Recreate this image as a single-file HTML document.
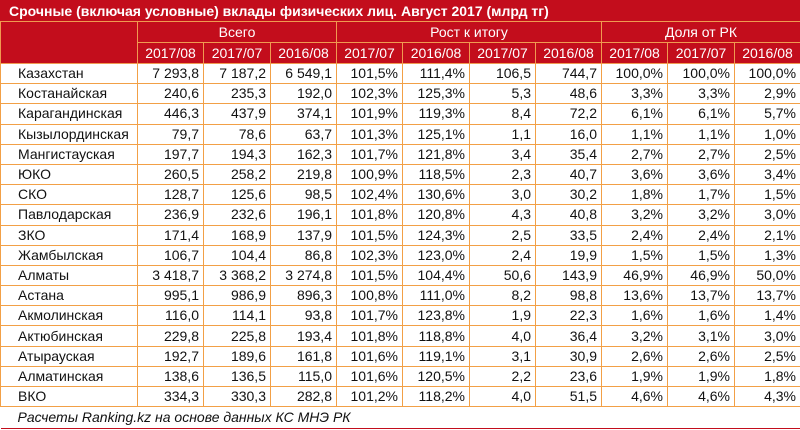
<!DOCTYPE html>
<html><head><meta charset="utf-8"><style>
body{margin:0;width:800px;height:430px;background:#fff;overflow:hidden;font-family:"Liberation Sans","DejaVu Sans",sans-serif;}
table{border-collapse:collapse;table-layout:fixed;width:800px;position:absolute;left:0;top:0;}
td{border:1px solid #f2a046;padding:0 4px;height:19.2px;font-size:14px;color:#111;text-align:right;white-space:nowrap;overflow:hidden;line-height:19px;}
td.l{text-align:left;padding-left:17px;}
tr.h td{background:#c30d1c;color:#fff;text-align:center;height:20px;border-color:#f09a50;}
tr.t td{background:#c30d1c;color:#fff;font-weight:bold;text-align:left;font-size:14px;height:20px;padding-left:8px;border-color:#c30d1c;border-bottom-color:#f09a50;}
tr.f td{text-align:left;font-style:italic;padding-left:17px;border-left:none;border-right:none;border-top:1px solid #c30d1c;border-bottom:1px solid #c30d1c;height:21px;}
</style></head><body>
<table>
<colgroup><col style="width:137px"><col style="width:66px"><col style="width:67px"><col style="width:66px"><col style="width:66px"><col style="width:67px"><col style="width:66px"><col style="width:66px"><col style="width:66px"><col style="width:67px"><col style="width:66px"></colgroup>
<tr class="t"><td colspan="11">Срочные (включая условные) вклады физических лиц. Август 2017 (млрд тг)</td></tr>
<tr class="h"><td rowspan="2"></td><td colspan="3">Всего</td><td colspan="4">Рост к итогу</td><td colspan="3">Доля от РК</td></tr>
<tr class="h"><td>2017/08</td><td>2017/07</td><td>2016/08</td><td>2017/07</td><td>2016/08</td><td>2017/07</td><td>2016/08</td><td>2017/08</td><td>2017/07</td><td>2016/08</td></tr>
<tr><td class="l">Казахстан</td><td>7 293,8</td><td>7 187,2</td><td>6 549,1</td><td>101,5%</td><td>111,4%</td><td>106,5</td><td>744,7</td><td>100,0%</td><td>100,0%</td><td>100,0%</td></tr>
<tr><td class="l">Костанайская</td><td>240,6</td><td>235,3</td><td>192,0</td><td>102,3%</td><td>125,3%</td><td>5,3</td><td>48,6</td><td>3,3%</td><td>3,3%</td><td>2,9%</td></tr>
<tr><td class="l">Карагандинская</td><td>446,3</td><td>437,9</td><td>374,1</td><td>101,9%</td><td>119,3%</td><td>8,4</td><td>72,2</td><td>6,1%</td><td>6,1%</td><td>5,7%</td></tr>
<tr><td class="l">Кызылординская</td><td>79,7</td><td>78,6</td><td>63,7</td><td>101,3%</td><td>125,1%</td><td>1,1</td><td>16,0</td><td>1,1%</td><td>1,1%</td><td>1,0%</td></tr>
<tr><td class="l">Мангистауская</td><td>197,7</td><td>194,3</td><td>162,3</td><td>101,7%</td><td>121,8%</td><td>3,4</td><td>35,4</td><td>2,7%</td><td>2,7%</td><td>2,5%</td></tr>
<tr><td class="l">ЮКО</td><td>260,5</td><td>258,2</td><td>219,8</td><td>100,9%</td><td>118,5%</td><td>2,3</td><td>40,7</td><td>3,6%</td><td>3,6%</td><td>3,4%</td></tr>
<tr><td class="l">СКО</td><td>128,7</td><td>125,6</td><td>98,5</td><td>102,4%</td><td>130,6%</td><td>3,0</td><td>30,2</td><td>1,8%</td><td>1,7%</td><td>1,5%</td></tr>
<tr><td class="l">Павлодарская</td><td>236,9</td><td>232,6</td><td>196,1</td><td>101,8%</td><td>120,8%</td><td>4,3</td><td>40,8</td><td>3,2%</td><td>3,2%</td><td>3,0%</td></tr>
<tr><td class="l">ЗКО</td><td>171,4</td><td>168,9</td><td>137,9</td><td>101,5%</td><td>124,3%</td><td>2,5</td><td>33,5</td><td>2,4%</td><td>2,4%</td><td>2,1%</td></tr>
<tr><td class="l">Жамбылская</td><td>106,7</td><td>104,4</td><td>86,8</td><td>102,3%</td><td>123,0%</td><td>2,4</td><td>19,9</td><td>1,5%</td><td>1,5%</td><td>1,3%</td></tr>
<tr><td class="l">Алматы</td><td>3 418,7</td><td>3 368,2</td><td>3 274,8</td><td>101,5%</td><td>104,4%</td><td>50,6</td><td>143,9</td><td>46,9%</td><td>46,9%</td><td>50,0%</td></tr>
<tr><td class="l">Астана</td><td>995,1</td><td>986,9</td><td>896,3</td><td>100,8%</td><td>111,0%</td><td>8,2</td><td>98,8</td><td>13,6%</td><td>13,7%</td><td>13,7%</td></tr>
<tr><td class="l">Акмолинская</td><td>116,0</td><td>114,1</td><td>93,8</td><td>101,7%</td><td>123,8%</td><td>1,9</td><td>22,3</td><td>1,6%</td><td>1,6%</td><td>1,4%</td></tr>
<tr><td class="l">Актюбинская</td><td>229,8</td><td>225,8</td><td>193,4</td><td>101,8%</td><td>118,8%</td><td>4,0</td><td>36,4</td><td>3,2%</td><td>3,1%</td><td>3,0%</td></tr>
<tr><td class="l">Атырауская</td><td>192,7</td><td>189,6</td><td>161,8</td><td>101,6%</td><td>119,1%</td><td>3,1</td><td>30,9</td><td>2,6%</td><td>2,6%</td><td>2,5%</td></tr>
<tr><td class="l">Алматинская</td><td>138,6</td><td>136,5</td><td>115,0</td><td>101,6%</td><td>120,5%</td><td>2,2</td><td>23,6</td><td>1,9%</td><td>1,9%</td><td>1,8%</td></tr>
<tr><td class="l">ВКО</td><td>334,3</td><td>330,3</td><td>282,8</td><td>101,2%</td><td>118,2%</td><td>4,0</td><td>51,5</td><td>4,6%</td><td>4,6%</td><td>4,3%</td></tr>
<tr class="f"><td colspan="11">Расчеты Ranking.kz на основе данных КС МНЭ РК</td></tr>
</table>
</body></html>
